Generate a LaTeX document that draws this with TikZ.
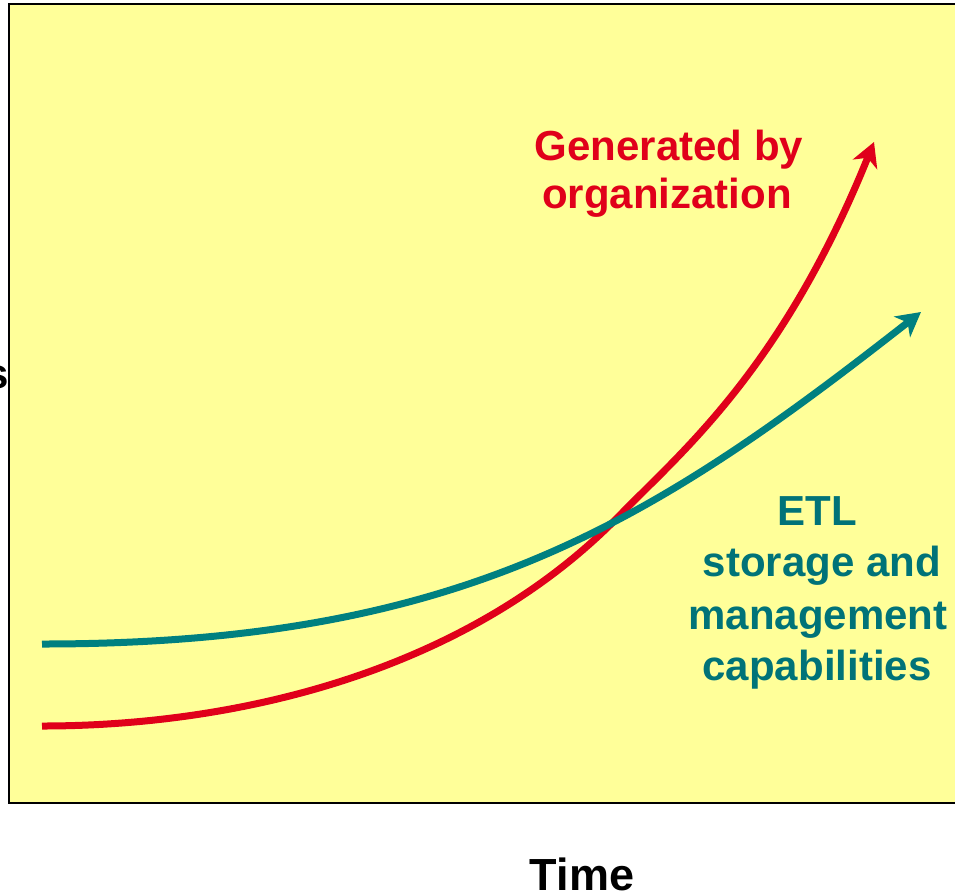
\documentclass[tikz,border=0pt]{standalone}
\usepackage{fontspec}
\setmainfont{Liberation Sans}
\usetikzlibrary{arrows.meta}
\definecolor{bgyellow}{RGB}{255,255,153}
\definecolor{redline}{RGB}{224,0,26}
\definecolor{tealline}{RGB}{0,128,128}
\definecolor{tealtext}{RGB}{0,115,120}
\begin{document}
\begin{tikzpicture}[x=1pt,y=-1pt,
  curve/.style={line width=7pt, -{Stealth[length=24pt,width=26pt,inset=7pt]}},
  lbl/.style={font=\fontsize{42}{49}\selectfont\bfseries, inner sep=0pt, anchor=base}]
\useasboundingbox (0,0) rectangle (955,895);
\node[lbl, anchor=base east] (s) at (9,388) {s};
\draw[fill=bgyellow, line width=2.5pt] (9,4) rectangle (975,803);
\coordinate (rs) at (42,726);
\coordinate (cross) at (620,515);
\coordinate (re) at (874,142);
\coordinate (ts) at (42,644);
\coordinate (te) at (921,312);
\draw[curve, redline] (rs) .. controls (242,726) and (470,669.5) .. (cross)
  .. controls (680,453.2) and (782,370) .. (re);
\draw[curve, tealline] (ts) .. controls (462,644) and (651,523.5) .. (te);
\node[lbl, text=redline] (gen1) at (669,160) {Generated by};
\node[lbl, text=redline] (gen2) at (667,208) {organization};
\node[lbl, text=tealtext] (etl1) at (817,525) {ETL};
\node[lbl, text=tealtext] (etl2) at (822,576) {storage and};
\node[lbl, text=tealtext] (etl3) at (818,629) {management};
\node[lbl, text=tealtext] (etl4) at (817,680) {capabilities};
\node[lbl, font=\fontsize{45}{50}\selectfont\bfseries] (time) at (582,890) {Time};
\end{tikzpicture}
\end{document}
